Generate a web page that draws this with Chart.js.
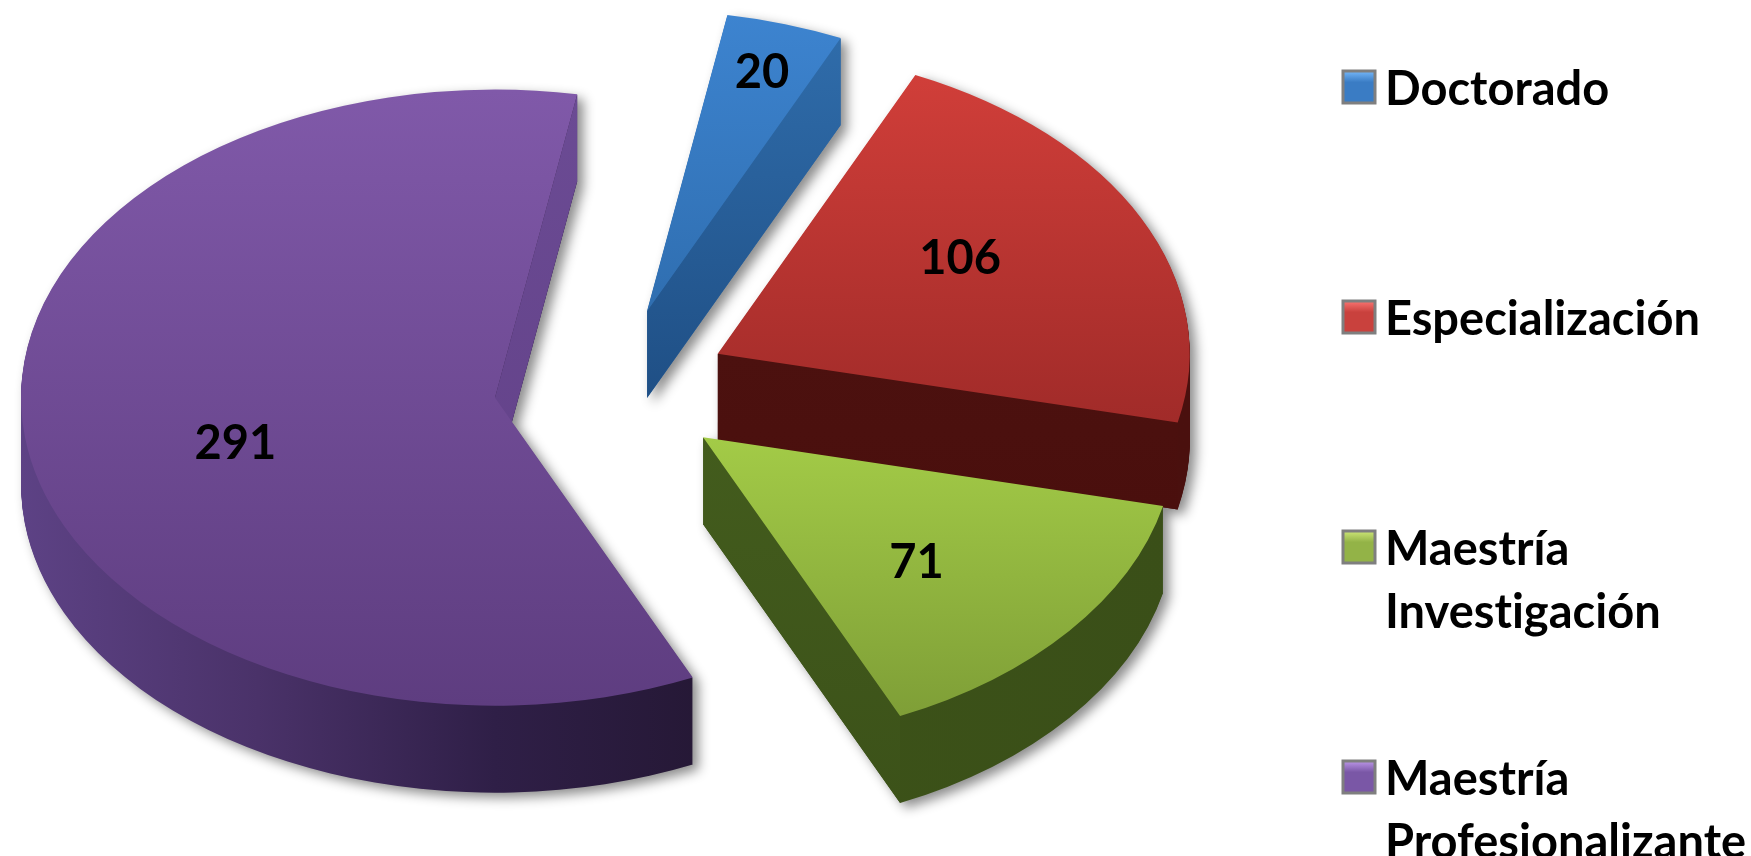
<!DOCTYPE html>
<html>
<head>
<meta charset="utf-8">
<title>Posgrados</title>
<script src="https://cdn.jsdelivr.net/npm/chart.js@4"></script>
<style>
  html, body { margin: 0; padding: 0; background: #fff; overflow: hidden; }
  #wrap { width: 1751px; height: 856px; }
</style>
</head>
<body>
<div id="wrap"><canvas id="pie" width="1751" height="856"></canvas></div>
<script>
// datos de la grafica
const categories = ['Doctorado', 'Especialización', 'Maestría Investigación', 'Maestría Profesionalizante'];
const values = [20, 106, 71, 291];
const legendLines = [['Doctorado'], ['Especialización'], ['Maestría', 'Investigación'], ['Maestría', 'Profesionalizante']];

// colores: cara superior, costado curvo, pared interior
const topColors = [['#3d84d0', '#2f6eb0'], ['#d03e39', '#a12b29'], ['#a3cb47', '#7f9f37'], ['#8059a9', '#5e3d80']];
const rimColors = [
    ['#2e6aa8', '#2e6aa8'],
    ['#4f1512', '#4a100e'],
    ['#3f5619', '#3a4f18'],
    ['#5d4285', '#4a3269', '#2f1f47', '#241733', '#241733']
];
const wallColors = [['#2f6caa', '#1f4f85'], ['#4c110f', '#4a0f0d'], ['#435c1d', '#3c5219'], ['#6b4b94', '#64438a']];
const legendColors = ['#3a7cc4', '#c9413d', '#93b347', '#7a57a6'];
const legendTints = ['#76b8fa', '#fa7572', '#cde678', '#bc97e8'];

// geometria del pastel 3D
const pieX = 610, pieY = 388, pieRadius = 472, squash = 0.65, depth = 87;
const explode = [124, 120, 120, 116];
const sliceScale = [0.98, 1, 1, 1.004];
const drawOrder = [3, 0, 1, 2];
// extension vertical del degradado de cada cara, en fraccion del radio
const topSpan = [[1, 0], [0.9, 0.22], [0, 0.9], [1, 1]];
// posicion de cada numero: fraccion del radio y giro en grados
const labelPos = [[0.815, 0], [0.6, -5], [0.61, 3], [0.57, -8]];

const FONT = '700 47px Lato, "Open Sans", sans-serif';

function midAngle(arc) { return (arc.startAngle + arc.endAngle) / 2; }

function apexOf(arc, i) {
    const a = midAngle(arc);
    return { x: pieX + explode[i] * Math.cos(a), y: pieY + explode[i] * squash * Math.sin(a) };
}

// dibuja el arco de Chart.js con otro relleno sin tocar sus opciones
function paintArc(ctx, arc, fill) {
    const keep = arc.options;
    arc.options = Object.assign({}, keep, { backgroundColor: fill, borderWidth: 0 });
    arc.draw(ctx);
    arc.options = keep;
}

function drawSlice(ctx, arc, i) {
    const apex = apexOf(arc, i);
    const radius = pieRadius * sliceScale[i];
    const place = (dy) => {
        ctx.translate(apex.x, apex.y + dy);
        ctx.scale(sliceScale[i], squash * sliceScale[i]);
        ctx.translate(-arc.x, -arc.y);
    };

    // costado: el mismo arco repetido hacia abajo
    const rim = ctx.createLinearGradient(arc.x - pieRadius, 0, arc.x + pieRadius, 0);
    rimColors[i].forEach((c, n, all) => rim.addColorStop(n / (all.length - 1), c));
    for (let k = depth; k >= 1; k--) {
        ctx.save();
        place(k);
        paintArc(ctx, arc, rim);
        ctx.restore();
    }

    // pared del borde final de la rebanada
    const ex = apex.x + radius * Math.cos(arc.endAngle);
    const ey = apex.y + radius * squash * Math.sin(arc.endAngle);
    const wall = ctx.createLinearGradient(0, Math.min(apex.y, ey), 0, Math.max(apex.y, ey) + depth);
    wall.addColorStop(0, wallColors[i][0]);
    wall.addColorStop(1, wallColors[i][1]);
    ctx.fillStyle = wall;
    ctx.beginPath();
    ctx.moveTo(apex.x, apex.y);
    ctx.lineTo(ex, ey);
    ctx.lineTo(ex, ey + depth);
    ctx.lineTo(apex.x, apex.y + depth);
    ctx.closePath();
    ctx.fill();

    // cara superior
    ctx.save();
    place(0);
    const face = ctx.createLinearGradient(0, arc.y - pieRadius * topSpan[i][0], 0, arc.y + pieRadius * topSpan[i][1]);
    face.addColorStop(0, topColors[i][0]);
    face.addColorStop(1, topColors[i][1]);
    paintArc(ctx, arc, face);
    ctx.restore();
}

// sustituye el dibujo normal del dataset por la version con volumen
const pie3d = {
    id: 'pie3d',
    beforeDatasetDraw(chart, args) {
        const arcs = args.meta.data;
        const layer = document.createElement('canvas');
        layer.width = chart.width;
        layer.height = chart.height;
        const lctx = layer.getContext('2d');
        drawOrder.forEach(i => drawSlice(lctx, arcs[i], i));

        const ctx = chart.ctx;
        ctx.save();
        ctx.shadowColor = 'rgba(0,0,0,0.45)';
        ctx.shadowBlur = 12;
        ctx.shadowOffsetX = 6;
        ctx.shadowOffsetY = 5;
        ctx.drawImage(layer, 0, 0);
        ctx.restore();
        return false;
    },
    afterDraw(chart) {
        const ctx = chart.ctx;
        const arcs = chart.getDatasetMeta(0).data;
        ctx.save();
        ctx.font = FONT;
        ctx.letterSpacing = '0.01px'; // evita la ligadura "ti" de Lato
        ctx.fillStyle = '#000';
        ctx.textBaseline = 'middle';

        // numeros sobre las rebanadas
        ctx.textAlign = 'center';
        arcs.forEach((arc, i) => {
            const apex = apexOf(arc, i);
            const a = midAngle(arc) + labelPos[i][1] * Math.PI / 180;
            const r = pieRadius * labelPos[i][0];
            ctx.fillText(String(values[i]), apex.x + r * Math.cos(a), apex.y + r * squash * Math.sin(a));
        });

        // leyenda
        ctx.textAlign = 'left';
        legendLines.forEach((lines, i) => {
            const y = 87 + i * 230;
            const box = ctx.createLinearGradient(0, y - 16, 0, y + 16);
            box.addColorStop(0, legendTints[i]);
            box.addColorStop(0.35, legendColors[i]);
            box.addColorStop(1, legendColors[i]);
            ctx.fillStyle = box;
            ctx.strokeStyle = '#7f7f7f';
            ctx.lineWidth = 3;
            ctx.fillRect(1343, y - 16, 32, 32);
            ctx.strokeRect(1343, y - 16, 32, 32);
            ctx.fillStyle = '#000';
            lines.forEach((line, n) => ctx.fillText(line, 1385, y + 3 + n * 63));
        });
        ctx.restore();
    }
};

new Chart(document.getElementById('pie'), {
    type: 'pie',
    data: {
        labels: categories,
        datasets: [{
            data: values,
            radius: pieRadius,
            backgroundColor: legendColors,
            borderWidth: 0
        }]
    },
    options: {
        responsive: false,
        animation: false,
        devicePixelRatio: 1,
        rotation: 10,
        events: [],
        plugins: {
            legend: { display: false },
            tooltip: { enabled: false }
        }
    },
    plugins: [pie3d]
});
</script>
</body>
</html>
